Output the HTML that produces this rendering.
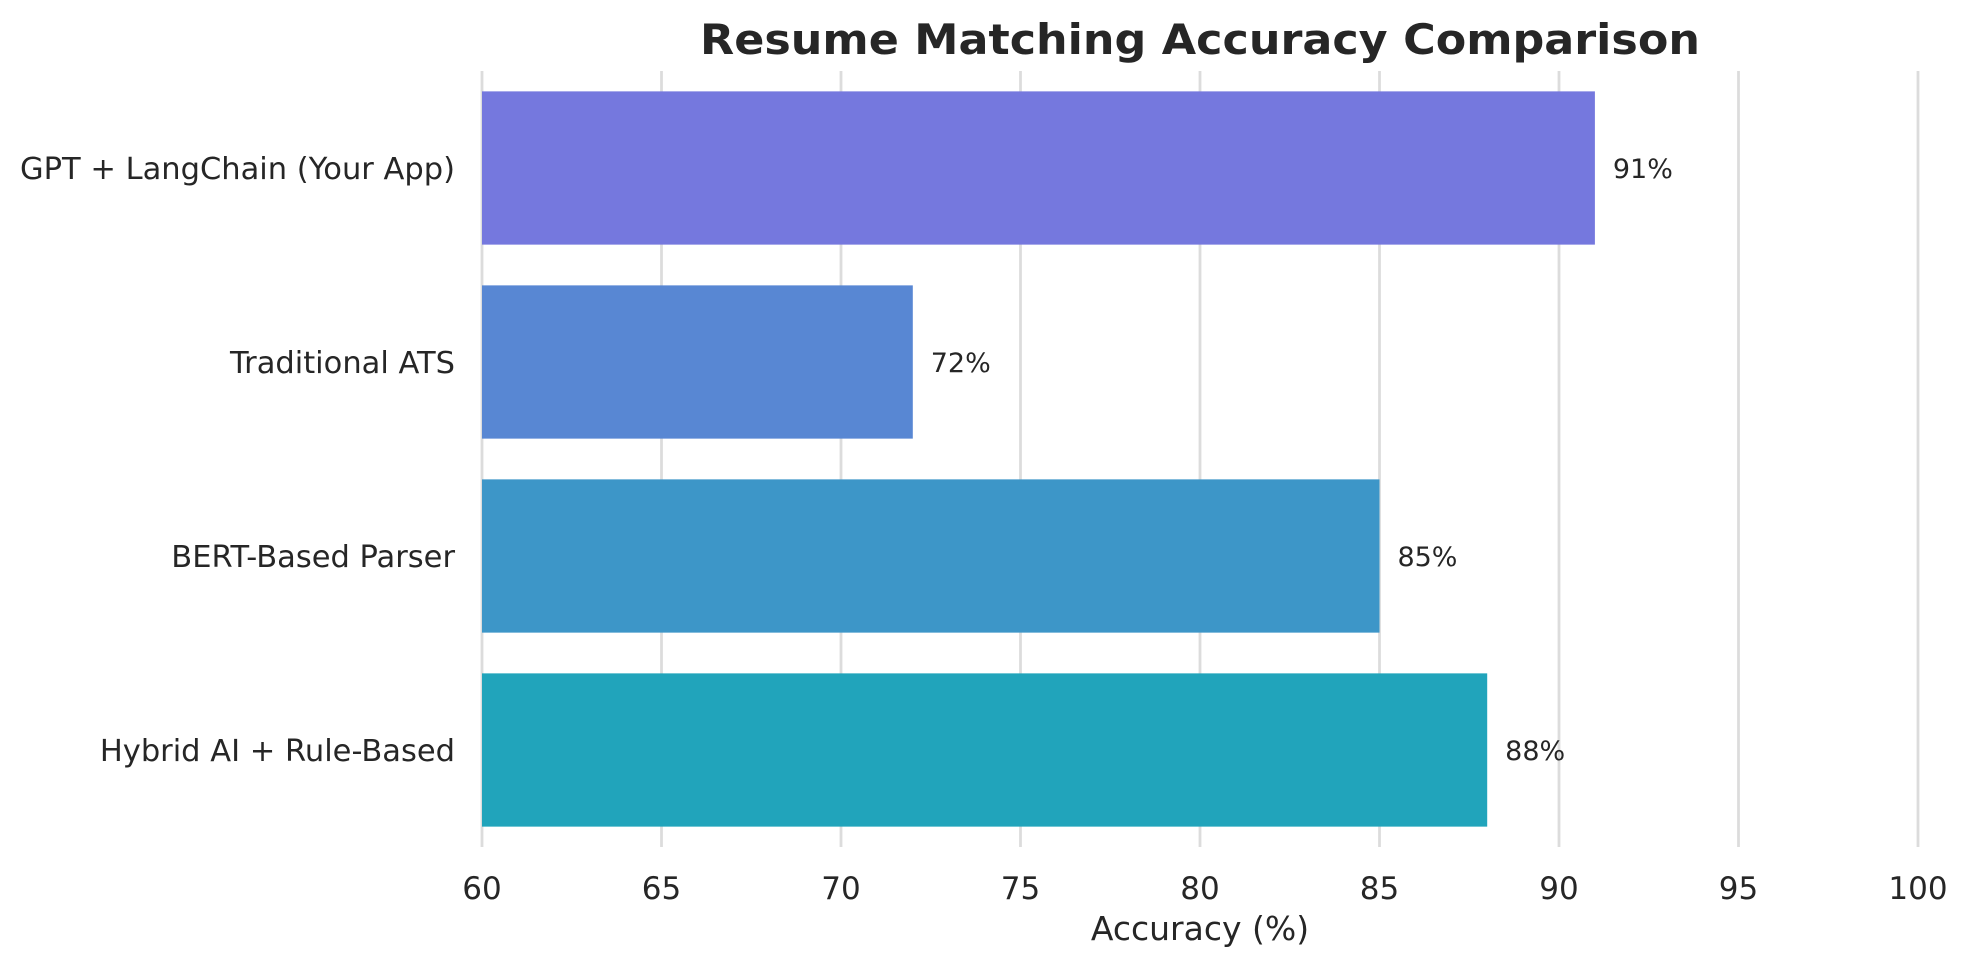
<!DOCTYPE html>
<html><head><meta charset="utf-8"><style>
html,body{margin:0;padding:0;background:#fff;}
svg{display:block;font-family:"DejaVu Sans","Liberation Sans",sans-serif;}
</style></head><body>
<svg id="chart" width="1968" height="968" viewBox="0 0 1968 968" xmlns="http://www.w3.org/2000/svg">
<rect width="1968" height="968" fill="#fff"/>
<g id="grid"></g>
<g id="bars"></g>
<g id="labels"></g>
<text x="1200" y="54" text-anchor="middle" font-size="42" font-weight="bold" fill="#262626" textLength="1000" lengthAdjust="spacingAndGlyphs">Resume Matching Accuracy Comparison</text>
<text x="1200" y="940" text-anchor="middle" font-size="33" fill="#262626">Accuracy (%)</text>
</svg>
<script>
const categories = ["GPT + LangChain (Your App)", "Traditional ATS", "BERT-Based Parser", "Hybrid AI + Rule-Based"];
const values = [91, 72, 85, 88];
const valueLabels = ["91%", "72%", "85%", "88%"];
const colors = ["#7578de", "#5887d3", "#3d96c8", "#21a4bb"];
const xTicks = [60, 65, 70, 75, 80, 85, 90, 95, 100];

const NS = "http://www.w3.org/2000/svg";
const plotL = 482, plotR = 1918, plotT = 71, plotB = 847;
const xMin = 60, xMax = 100;
function xScale(v){ return plotL + (v - xMin) / (xMax - xMin) * (plotR - plotL); }
const band = (plotB - plotT) / categories.length;
function yCenter(i){ return plotT + band * (i + 0.5); }
const barH = band * 0.79;

function mk(tag, attrs){ const e = document.createElementNS(NS, tag); for (const k in attrs) e.setAttribute(k, attrs[k]); return e; }

const grid = document.getElementById('grid');
const labels = document.getElementById('labels');
xTicks.forEach(t => {
  const x = xScale(t);
  const l = mk('line', {x1:x, x2:x, y1:plotT, y2:plotB, stroke:'#dcdcdc', 'stroke-width':2.8});
  
  
  grid.appendChild(l);
  const tx = mk('text', {x:x, y:899, 'text-anchor':'middle', 'font-size':31, fill:'#262626'});
  tx.textContent = t;
  
  
  labels.appendChild(tx);
});

const bars = document.getElementById('bars');
categories.forEach((c, i) => {
  const yc = yCenter(i);
  const r = mk('rect', {x:xScale(xMin), y:yc - barH/2, width:xScale(values[i]) - xScale(xMin), height:barH, fill:colors[i]});
  
  
  bars.appendChild(r);
  const yl = mk('text', {x:455, y:yc + 11, 'text-anchor':'end', 'font-size':30.5, fill:'#262626'});
  yl.textContent = c;
  
  
  labels.appendChild(yl);
  const vl = mk('text', {x:xScale(values[i] + 0.5), y:yc + 10, 'font-size':27, fill:'#262626'});
  vl.textContent = valueLabels[i];
  
  
  labels.appendChild(vl);
});
</script>
</body></html>
